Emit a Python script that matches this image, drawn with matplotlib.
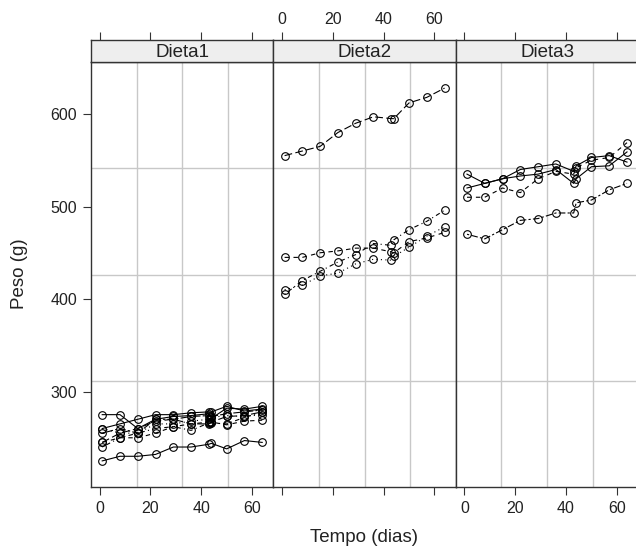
import numpy as np
import matplotlib
matplotlib.use("Agg")
import matplotlib.pyplot as plt

plt.rcParams['font.family'] = ['Liberation Sans', 'DejaVu Sans']

# tempos de medição (dias)
tempo = [1, 8, 15, 22, 29, 36, 43, 44, 50, 57, 64]

# ratos na ordem dos níveis do fator (define o tipo de linha)
ratos = ['2', '3', '4', '1', '8', '5', '6', '7',
         '11', '9', '10', '12', '13', '15', '14', '16']
dieta = ['Dieta1'] * 8 + ['Dieta2'] * 4 + ['Dieta3'] * 4

peso = {
    '1': [240, 250, 255, 260, 262, 258, 266, 266, 265, 272, 278],
    '2': [225, 230, 230, 232, 240, 240, 243, 244, 238, 247, 245],
    '3': [245, 250, 250, 255, 262, 265, 267, 267, 264, 268, 269],
    '4': [260, 255, 255, 265, 265, 268, 270, 272, 274, 273, 275],
    '5': [255, 260, 255, 270, 270, 273, 274, 273, 276, 278, 280],
    '6': [260, 265, 270, 275, 275, 277, 278, 278, 284, 279, 281],
    '7': [275, 275, 260, 270, 273, 274, 276, 271, 282, 281, 284],
    '8': [245, 255, 260, 268, 270, 265, 265, 267, 273, 274, 278],
    '9': [410, 415, 425, 428, 438, 443, 442, 446, 456, 468, 478],
    '10': [405, 420, 430, 440, 448, 460, 458, 464, 475, 484, 496],
    '11': [445, 445, 450, 452, 455, 455, 451, 450, 462, 466, 472],
    '12': [555, 560, 565, 580, 590, 597, 595, 595, 612, 618, 628],
    '13': [470, 465, 475, 485, 487, 493, 493, 504, 507, 518, 525],
    '14': [535, 525, 530, 533, 535, 540, 525, 530, 543, 544, 559],
    '15': [520, 525, 530, 540, 543, 546, 538, 544, 553, 555, 548],
    '16': [510, 510, 520, 515, 530, 538, 535, 542, 550, 553, 569],
}

paineis = ['Dieta1', 'Dieta2', 'Dieta3']
xticks = [0, 20, 40, 60]
yticks = [300, 400, 500, 600]

# tipos de linha do R (lty 1..6), reciclados como no lattice
ltys = ['-', (0, (4, 4)), (0, (1, 3)), (0, (1, 3, 4, 3)),
        (0, (7, 3)), (0, (2, 2, 6, 2)), '-']

# limites com 7% de folga, como o lattice
allv = np.concatenate([peso[r] for r in ratos])
xr = max(tempo) - min(tempo)
yr = allv.max() - allv.min()
xlim = (min(tempo) - 0.07 * xr, max(tempo) + 0.07 * xr)
ylim = (allv.min() - 0.07 * yr, allv.max() + 0.07 * yr)

W, H = 636, 553
fig = plt.figure(figsize=(W / 100, H / 100), dpi=100)

left, pw = 91, 182.4
top, bot = 62, 487
strip_h = 22
txt = '#222222'

for i, nome in enumerate(paineis):
    x0 = left + i * pw
    ax = fig.add_axes([x0 / W, 1 - bot / H, pw / W, (bot - top) / H])
    st = fig.add_axes([x0 / W, 1 - top / H, pw / W, strip_h / H])

    # grade
    for f in [0.25, 0.5, 0.75]:
        ax.plot([f, f], [0, 1], transform=ax.transAxes, color='#c8c8c8', lw=1, zorder=0)
        ax.plot([0, 1], [f, f], transform=ax.transAxes, color='#c8c8c8', lw=1, zorder=0)

    for k, r in enumerate(ratos):
        if dieta[k] != nome:
            continue
        ax.plot(tempo, peso[r], color='black', lw=0.8, linestyle=ltys[k % 7],
                marker='o', markersize=5.5, markerfacecolor='none',
                markeredgecolor='black', markeredgewidth=0.8, zorder=2)

    ax.set_xlim(xlim)
    ax.set_ylim(ylim)
    st.set_xlim(xlim)
    st.set_ylim(0, 1)

    for a in (ax, st):
        for s in a.spines.values():
            s.set_color('#333333')
            s.set_linewidth(1.0)

    st.set_facecolor('#eeeeee')
    st.text(0.5, 0.45, nome, transform=st.transAxes, ha='center', va='center',
            fontsize=13.5, color=txt)
    st.set_yticks([])
    st.xaxis.set_ticks_position('top')
    st.set_xticks(xticks)
    st.tick_params(axis='x', direction='out', length=6, width=0.8,
                   color='#333333', labelsize=11.5, labelcolor=txt, pad=3)
    if i != 1:
        st.set_xticklabels([])

    ax.set_xticks(xticks)
    ax.tick_params(axis='x', direction='out', length=6, width=0.8,
                   color='#333333', labelsize=11.5, labelcolor=txt, pad=4)
    if i == 1:
        ax.set_xticklabels([])

    ax.set_yticks(yticks)
    ax.tick_params(axis='y', direction='out', length=6, width=0.8,
                   color='#333333', labelsize=11.5, labelcolor=txt, pad=4)
    if i != 0:
        ax.tick_params(axis='y', left=False, labelleft=False)

fig.text(364 / W, 1 - 538 / H, 'Tempo (dias)', ha='center', va='center',
         fontsize=13.5, color=txt)
fig.text(20 / W, 1 - 274 / H, 'Peso (g)', ha='center', va='center',
         rotation=90, fontsize=13.5, color=txt)

fig.savefig('out.png', dpi=100)
